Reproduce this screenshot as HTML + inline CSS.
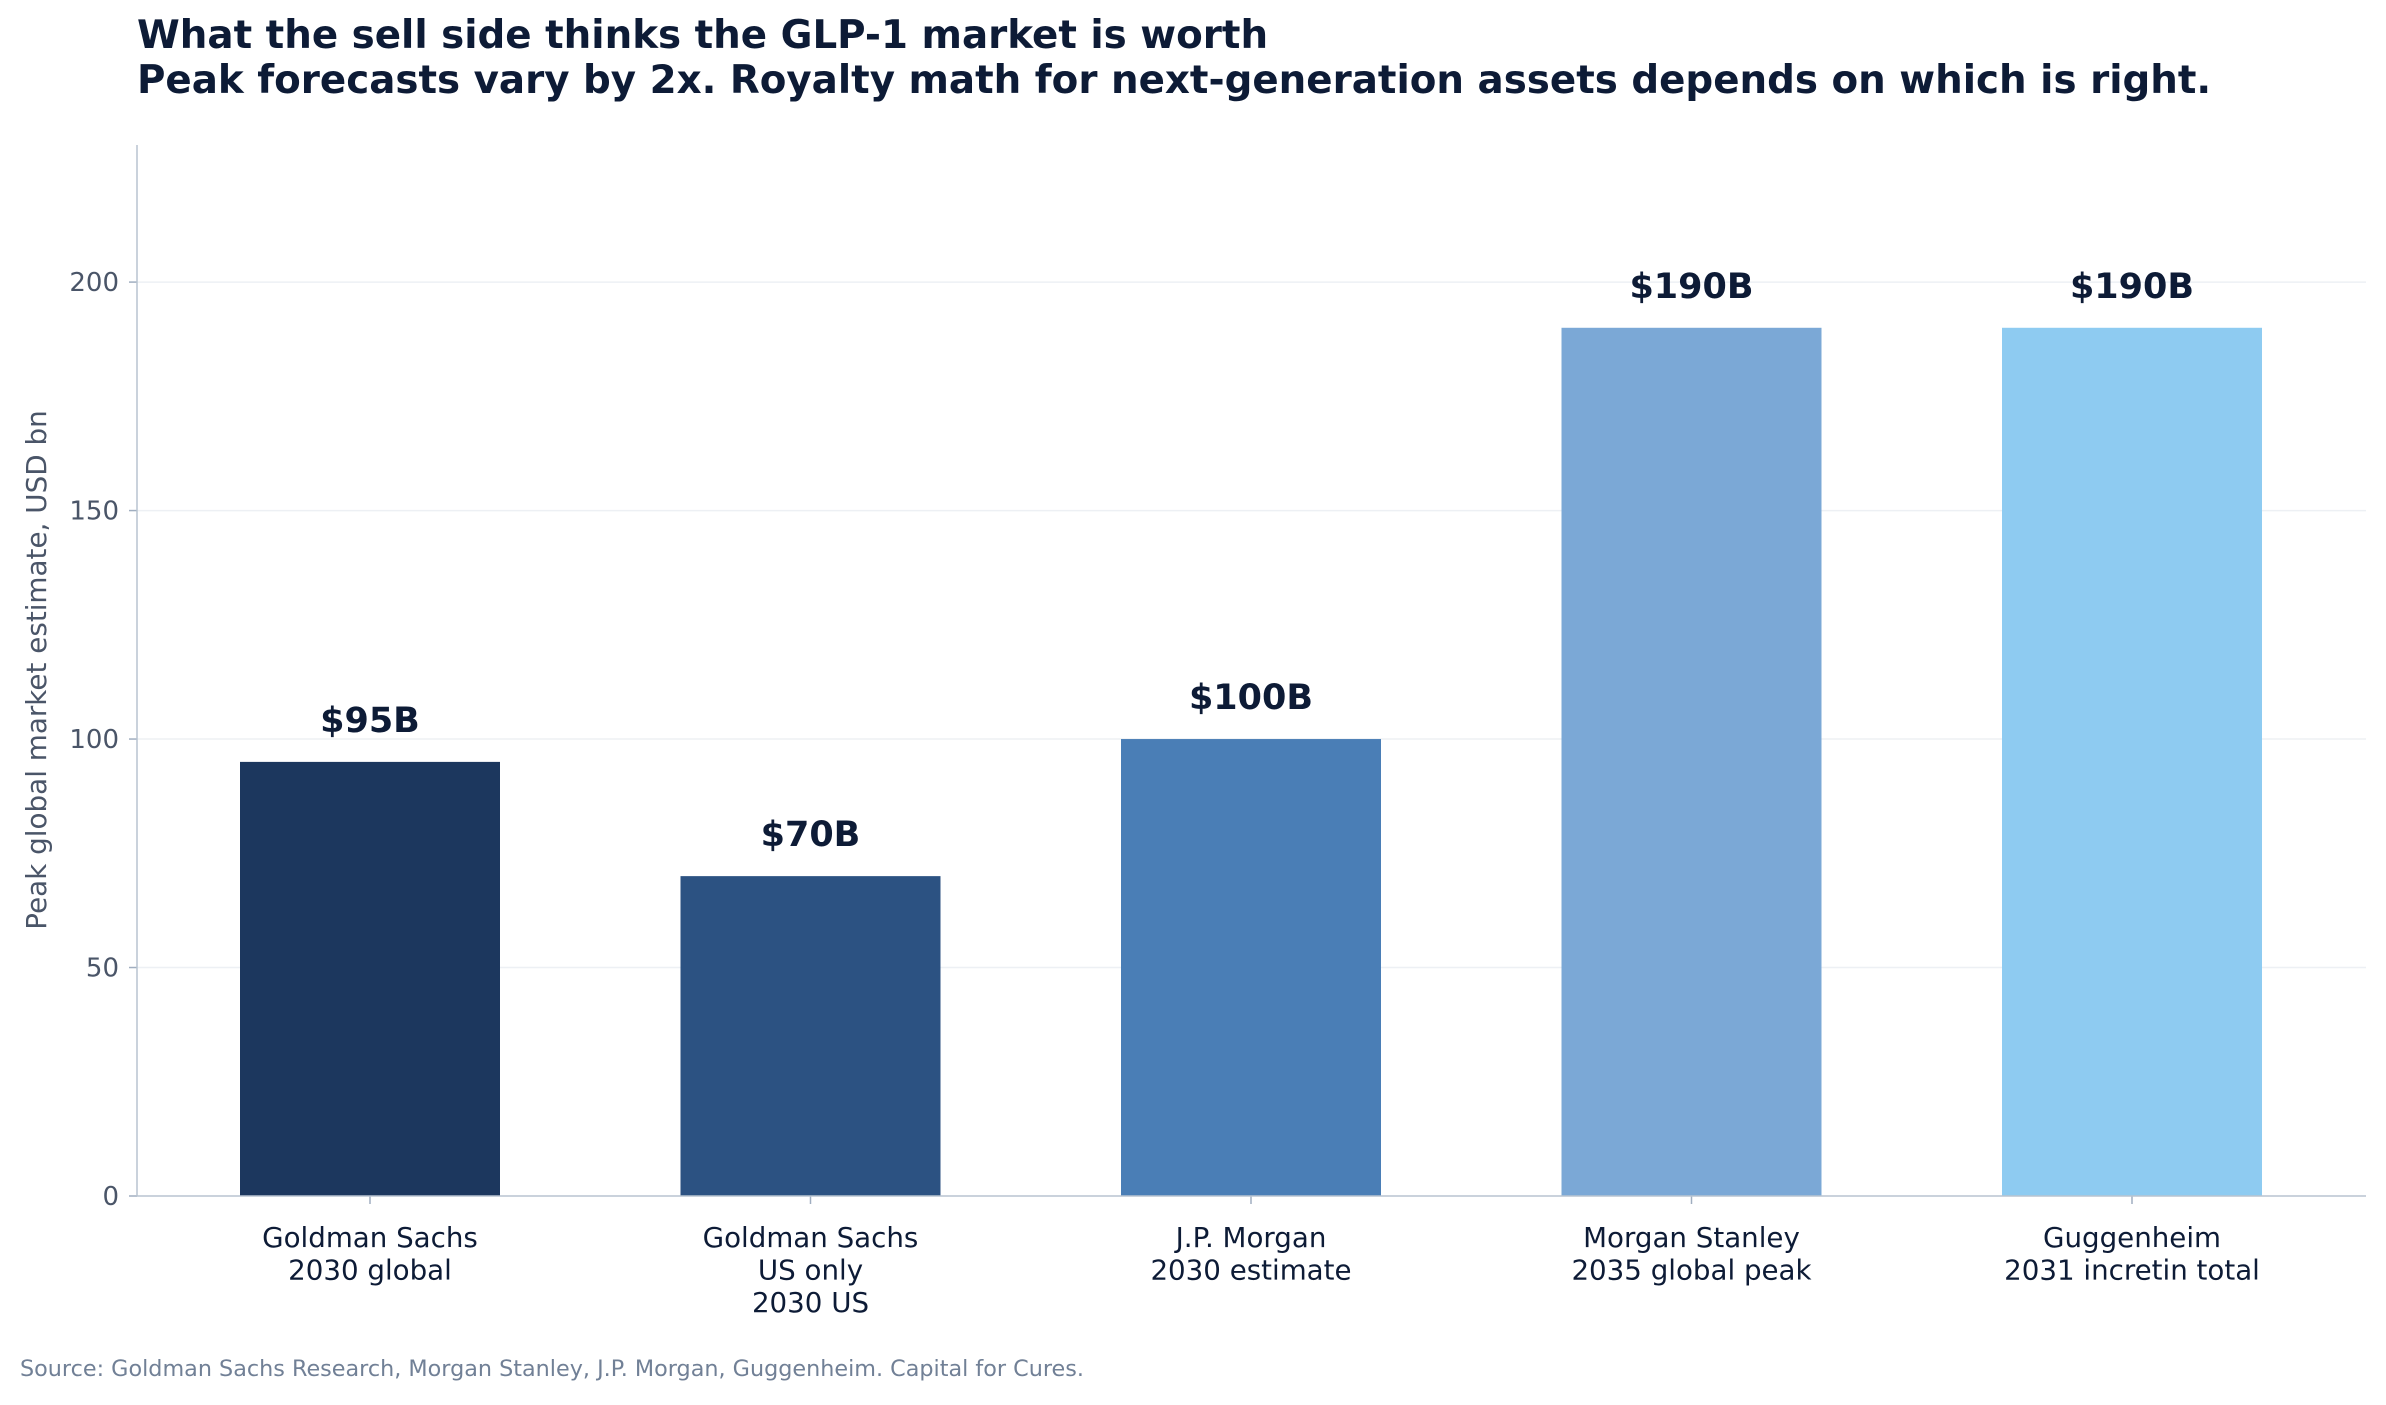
<!DOCTYPE html>
<html><head><meta charset="utf-8"><style>
body{margin:0;background:#fff;}
svg text{font-family:"DejaVu Sans","Liberation Sans",sans-serif;}
</style></head><body>
<svg id="chart" width="2386" height="1400" viewBox="0 0 2386 1400" xmlns="http://www.w3.org/2000/svg">
<text x="137" y="48" font-size="38.8" font-weight="bold" fill="#0d1b36">What the sell side thinks the GLP-1 market is worth</text>
<text x="137" y="93" font-size="38.8" font-weight="bold" fill="#0d1b36">Peak forecasts vary by 2x. Royalty math for next-generation assets depends on which is right.</text>
<g id="grid"></g><g id="bars"></g><g id="labels"></g><g id="axes"></g>
<text transform="translate(46,670) rotate(-90)" text-anchor="middle" font-size="27.8" fill="#4a5568">Peak global market estimate, USD bn</text>
<text x="20" y="1376" font-size="22.3" fill="#718096">Source: Goldman Sachs Research, Morgan Stanley, J.P. Morgan, Guggenheim. Capital for Cures.</text>
</svg>
<script>
const categories=[["Goldman Sachs","2030 global"],["Goldman Sachs","US only","2030 US"],["J.P. Morgan","2030 estimate"],["Morgan Stanley","2035 global peak"],["Guggenheim","2031 incretin total"]];
const values=[95,70,100,190,190];
const valueLabels=["$95B","$70B","$100B","$190B","$190B"];
const yTicks=[0,50,100,150,200];
const colors=["#1c375e","#2c5282","#4a7eb6","#7ba8d6","#8ecbf1"];
const NS="http://www.w3.org/2000/svg";
const x0=137,x1=2366,y0=1196,yMax=230,yTop=145;
const y=v=>y0-(v/yMax)*(y0-yTop);
const step=440.5,c0=370;
const xc=i=>c0+i*step;
const bw=260;
function mk(tag,attrs,parent,text){const e=document.createElementNS(NS,tag);for(const k in attrs)e.setAttribute(k,attrs[k]);if(text!==undefined)e.textContent=text;document.getElementById(parent).appendChild(e);return e;}
yTicks.forEach(t=>{
 if(t>0){const g=mk('line',{x1:x0,x2:x1,y1:y(t),y2:y(t),stroke:'#edf0f4','stroke-width':1.5},'grid');
 
 }
 const tk=mk('line',{x1:x0-8,x2:x0,y1:y(t),y2:y(t),stroke:'#a0aec0','stroke-width':1.5},'axes');
 
 
 const tl=mk('text',{x:x0-18,y:y(t)+9,'text-anchor':'end','font-size':26,fill:'#4a5568'},'axes',String(t));
 
 
});
values.forEach((v,i)=>{
 const b=mk('rect',{x:xc(i)-bw/2,y:y(v),width:bw,height:y0-y(v),fill:colors[i]},'bars');
 
 
 const l=mk('text',{x:xc(i),y:y(v)-30,'text-anchor':'middle','font-size':35,'font-weight':'bold',fill:'#0d1b36'},'labels',valueLabels[i]);
 
 
 const tk=mk('line',{x1:xc(i),x2:xc(i),y1:y0,y2:y0+8,stroke:'#a0aec0','stroke-width':1.5},'axes');
 
 
 categories[i].forEach((line,j)=>{
  const t=mk('text',{x:xc(i),y:1247+j*32.5,'text-anchor':'middle','font-size':27.7,fill:'#0d1b36'},'axes',line);
  
  
 });
});
const ya=mk('line',{x1:x0,x2:x0,y1:yTop,y2:y0,stroke:'#b8c4d0','stroke-width':1.5},'axes');


const xa=mk('line',{x1:x0,x2:x1,y1:y0,y2:y0,stroke:'#b8c4d0','stroke-width':1.5},'axes');


</script>
</body></html>
